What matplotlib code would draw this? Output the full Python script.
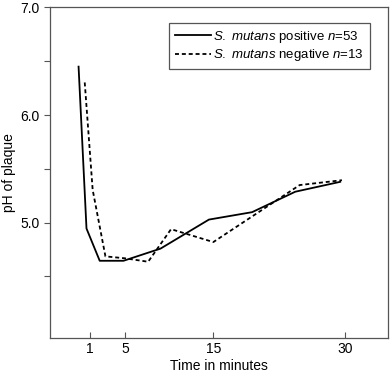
import matplotlib
matplotlib.use("Agg")
import matplotlib.pyplot as plt

plt.rcParams['font.family'] = ['Liberation Sans', 'DejaVu Sans']
plt.rcParams['mathtext.fontset'] = 'custom'
plt.rcParams['mathtext.rm'] = 'Liberation Sans'
plt.rcParams['mathtext.it'] = 'Liberation Sans:italic'

# данные
t_pos = [-0.3, 0.6, 2.1, 4.8, 9.0, 14.5, 19.4, 24.3, 29.4]
ph_pos = [6.45, 4.945, 4.645, 4.645, 4.758, 5.028, 5.097, 5.287, 5.379]

t_neg = [0.4, 1.3, 2.75, 4.97, 7.6, 10.2, 15.0, 24.8, 29.6]
ph_neg = [6.303, 5.305, 4.686, 4.668, 4.636, 4.939, 4.819, 5.349, 5.394]

lab_pos = r"$\it{S.\ mutans}$ positive $\it{n}$=53"
lab_neg = r"$\it{S.\ mutans}$ negative $\it{n}$=13"

x_ticks = [1, 5, 15, 30]
y_ticks = [4.5, 5.0, 5.5, 6.0, 6.5, 7.0]
y_labels = ["", "5.0", "", "6.0", "", "7.0"]

fig = plt.figure(figsize=(3.91, 3.76), dpi=100)
ax = fig.add_axes([0.1266, 0.1019, 0.8664, 0.8782])

ax.plot(t_pos, ph_pos, color='black', linewidth=1.3, label=lab_pos)
ax.plot(t_neg, ph_neg, color='black', linewidth=1.3, linestyle=(0, (2.2, 1.6)), label=lab_neg)

ax.set_xlim(-3.6, 34.86)
ax.set_ylim(3.93, 7.0)
ax.set_xticks(x_ticks)
ax.set_yticks(y_ticks)
ax.set_yticklabels(y_labels)

for s in ax.spines.values():
    s.set_color('#555555')
    s.set_linewidth(0.9)

ax.tick_params(axis='x', direction='in', length=4, width=0.8, color='#555555', labelsize=10, pad=3)
ax.tick_params(axis='y', direction='out', length=4, width=0.8, color='#555555', labelsize=10, pad=3)

ax.set_xlabel("Time in minutes", fontsize=10, labelpad=2)
ax.set_ylabel("pH of plaque", fontsize=10, labelpad=3)

leg = ax.legend(loc='upper right', bbox_to_anchor=(0.946, 0.954), borderaxespad=0,
                fontsize=9.5, handlelength=2.7, handletextpad=0.2, labelspacing=0.2,
                borderpad=0.45, fancybox=False, framealpha=1)
leg.get_frame().set_edgecolor('#555555')
leg.get_frame().set_linewidth(0.9)

fig.savefig("out.png", dpi=100)
